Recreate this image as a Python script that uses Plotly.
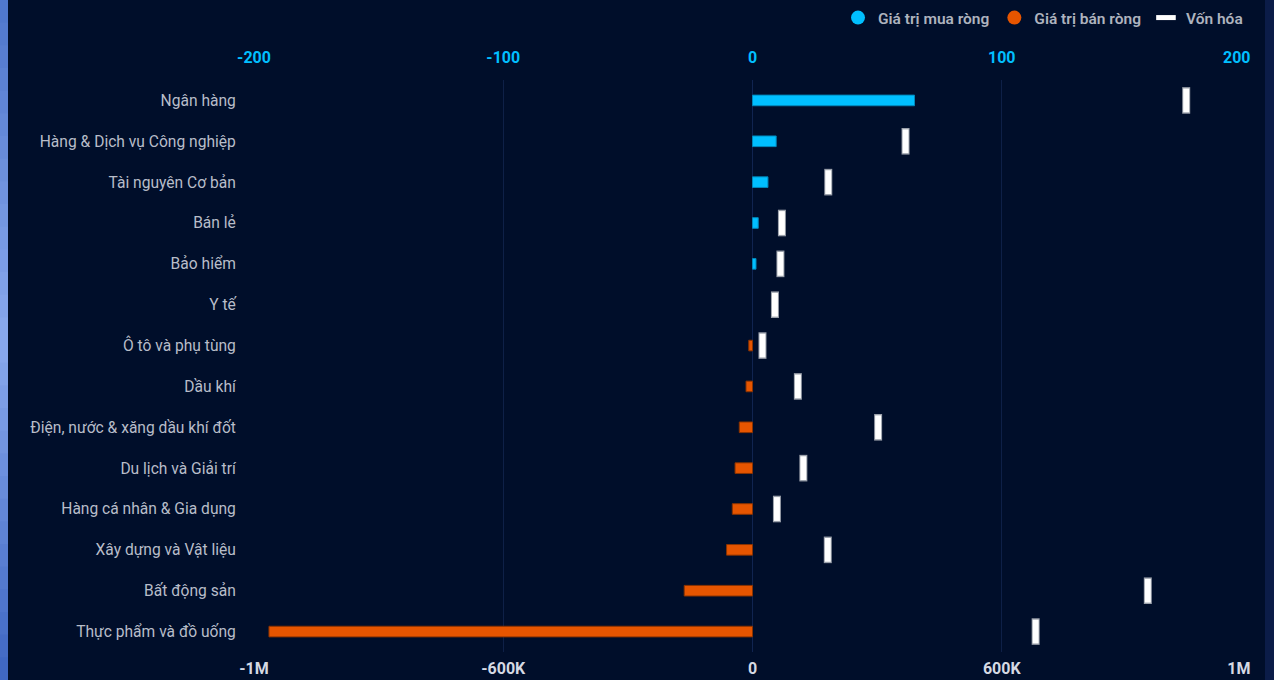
import plotly.graph_objects as go

categories = [
    "Ngân hàng", "Hàng & Dịch vụ Công nghiệp", "Tài nguyên Cơ bản", "Bán lẻ",
    "Bảo hiểm", "Y tế", "Ô tô và phụ tùng", "Dầu khí",
    "Điện, nước & xăng dầu khí đốt", "Du lịch và Giải trí",
    "Hàng cá nhân & Gia dụng", "Xây dựng và Vật liệu", "Bất động sản",
    "Thực phẩm và đồ uống",
]
net_value = [65.0, 9.5, 6.2, 2.3, 1.4, 0.0, -1.5, -2.6, -5.3, -7.0, -8.1, -10.4, -27.4, -194.0]
market_cap = [870e3, 307e3, 152e3, 59e3, 56e3, 45e3, 20e3, 91e3, 252e3, 102e3, 49e3, 151e3, 793e3, 568e3]

top_tickvals = [-200, -100, 0, 100, 200]
top_ticktext = ["-200", "-100", "0", "100", "200"]
bottom_tickvals = [-1e6, -5e5, 0, 5e5, 1e6]
bottom_ticktext = ["-1M", "-600K", "0", "600K", "1M"]

series_names = ["Giá trị mua ròng", "Giá trị bán ròng", "Vốn hóa"]

CYAN = "#00bfff"
ORANGE = "#e65500"
BG = "#000e2a"

buy_vals = [v if v > 0 else None for v in net_value]
sell_vals = [v if v < 0 else None for v in net_value]

fig = go.Figure()
fig.add_trace(go.Bar(
    y=categories, x=buy_vals, orientation="h", name=series_names[0],
    marker=dict(color=CYAN, line=dict(color="#0088bb", width=1)),
    width=0.26, xaxis="x", yaxis="y", showlegend=False,
))
fig.add_trace(go.Bar(
    y=categories, x=sell_vals, orientation="h", name=series_names[1],
    marker=dict(color=ORANGE, line=dict(color="#8a3300", width=1)),
    width=0.26, xaxis="x", yaxis="y", showlegend=False,
))
fig.add_trace(go.Scatter(
    y=categories, x=market_cap, mode="markers", name=series_names[2],
    marker=dict(symbol="line-ns", size=19, color="#9aa0aa", line=dict(color="#9aa0aa", width=8)),
    xaxis="x2", yaxis="y", showlegend=False, hoverinfo="skip",
))
fig.add_trace(go.Scatter(
    y=categories, x=market_cap, mode="markers", name=series_names[2],
    marker=dict(symbol="line-ns", size=17, color="white", line=dict(color="white", width=6)),
    xaxis="x2", yaxis="y", showlegend=False,
))

# legend entries
fig.add_trace(go.Scatter(x=[None], y=[None], mode="markers", name=series_names[0],
                         marker=dict(symbol="circle", size=14, color=CYAN), xaxis="x", yaxis="y"))
fig.add_trace(go.Scatter(x=[None], y=[None], mode="markers", name=series_names[1],
                         marker=dict(symbol="circle", size=14, color=ORANGE), xaxis="x", yaxis="y"))
fig.add_trace(go.Scatter(x=[None], y=[None], mode="markers", name=series_names[2],
                         marker=dict(symbol="line-ew", size=14, color="white",
                                     line=dict(color="white", width=8)), xaxis="x", yaxis="y"))
# empty traces binding the edge-label axes
fig.add_trace(go.Scatter(x=[None], y=[None], mode="markers", showlegend=False, hoverinfo="skip",
                         xaxis="x3", yaxis="y"))
fig.add_trace(go.Scatter(x=[None], y=[None], mode="markers", showlegend=False, hoverinfo="skip",
                         xaxis="x4", yaxis="y"))

L, R, T, B = 254, 23, 80, 28
W, H = 1274, 680
pw = W - L - R
ph = H - T - B

def px_x(p):
    return (p - L) / pw

shapes = []
# left gradient strip
grad_top = (80, 120, 205)
grad_mid = (138, 170, 238)
grad_bot = (64, 104, 196)
n = 30
for i in range(n):
    t = i / (n - 1)
    if t < 0.5:
        a, b, u = grad_top, grad_mid, t / 0.5
    else:
        a, b, u = grad_mid, grad_bot, (t - 0.5) / 0.5
    c = tuple(int(a[k] + (b[k] - a[k]) * u) for k in range(3))
    y1 = 1 + T / ph - i * (H / ph) / n
    y0 = y1 - (H / ph) / n - 0.002
    shapes.append(dict(type="rect", xref="paper", yref="paper",
                       x0=px_x(0), x1=px_x(8), y0=y0, y1=y1,
                       fillcolor="rgb(%d,%d,%d)" % c, line=dict(width=0), layer="below"))
shapes.append(dict(type="rect", xref="paper", yref="paper",
                   x0=px_x(1265), x1=px_x(1275), y0=-B / ph - 0.01, y1=1 + T / ph + 0.01,
                   fillcolor="#0b1c48", line=dict(width=0), layer="below"))

top_font = dict(color=CYAN, size=16, weight="bold")
bot_font = dict(color="#d5d9e3", size=16, weight="bold")

fig.update_layout(
    width=W, height=H,
    paper_bgcolor=BG, plot_bgcolor=BG,
    margin=dict(l=L, r=R, t=T, b=B, autoexpand=False),
    barmode="overlay",
    font=dict(family="Roboto, sans-serif", color="#b8bdc9", size=14),
    shapes=shapes,
    showlegend=True,
    legend=dict(orientation="h", x=0.997, xanchor="right", y=(ph + T - 18) / ph, yanchor="middle",
                font=dict(size=15.5, color="#aeb3be", weight=600), bgcolor="rgba(0,0,0,0)",
                traceorder="normal"),
    xaxis=dict(
        side="top", range=[-200, 200], tickvals=top_tickvals,
        ticktext=top_ticktext[:-1] + [""],
        tickfont=top_font,
        showgrid=True, gridcolor="#0e2047", gridwidth=1,
        zeroline=True, zerolinecolor="#102450", zerolinewidth=1,
        showline=False, ticks="outside", ticklen=10, tickcolor="rgba(0,0,0,0)",
        fixedrange=True,
    ),
    xaxis3=dict(
        overlaying="x", anchor="y", side="top", range=[-200, 200],
        tickvals=top_tickvals[-1:], ticktext=top_ticktext[-1:],
        ticklabelposition="outside left", ticklabelstandoff=10, tickfont=top_font,
        showgrid=False, zeroline=False, showline=False,
        ticks="outside", ticklen=10, tickcolor="rgba(0,0,0,0)", fixedrange=True,
    ),
    xaxis2=dict(
        overlaying="x", anchor="y", side="bottom", range=[-1e6, 1e6],
        tickvals=bottom_tickvals, ticktext=bottom_ticktext[:-1] + [""],
        tickfont=bot_font,
        showgrid=False, zeroline=False, showline=False,
        ticks="outside", ticklen=2, tickcolor="rgba(0,0,0,0)",
        fixedrange=True,
    ),
    xaxis4=dict(
        overlaying="x", anchor="y", side="bottom", range=[-1e6, 1e6],
        tickvals=bottom_tickvals[-1:], ticktext=bottom_ticktext[-1:],
        ticklabelposition="outside left", ticklabelstandoff=2, tickfont=bot_font,
        showgrid=False, zeroline=False, showline=False,
        ticks="outside", ticklen=2, tickcolor="rgba(0,0,0,0)", fixedrange=True,
    ),
    yaxis=dict(
        categoryorder="array", categoryarray=categories,
        range=[len(categories) - 0.5, -0.5],
        tickfont=dict(color="#b8bdc9", size=15.6),
        showgrid=False, zeroline=False, showline=False,
        ticks="outside", ticklen=14, tickcolor="rgba(0,0,0,0)",
        fixedrange=True,
    ),
)

fig.write_html("out.html", config={"displayModeBar": False},
               post_script="document.body.style.margin='0';document.body.style.overflow='hidden';")
